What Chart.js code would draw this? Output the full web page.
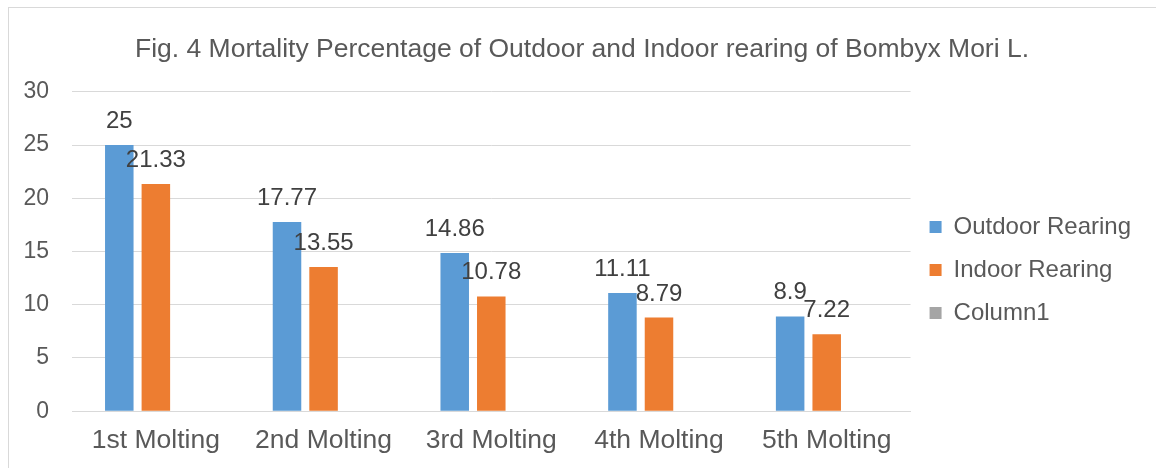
<!DOCTYPE HTML>
<html>
<head>
    <script src="https://cdn.jsdelivr.net/npm/chart.js"></script>
</head>
<body>
<style>
    * {
        margin: 0;
        padding: 0;
        box-sizing: border-box;
    }
    body {
        background: #ffffff;
        width: 1156px;
        height: 468px;
        overflow: hidden;
        position: relative;
    }
    .frame {
        position: absolute;
        left: 8px;
        top: 7px;
        width: 1200px;
        height: 500px;
        border: 1px solid #d9d9d9;
    }
    .chart {
        position: absolute;
        left: 0;
        top: 0;
        width: 1156px;
        height: 468px;
    }
</style>
<div class="frame"></div>
<div class="chart">
    <canvas id="myChart" width="1156" height="468"></canvas>
</div>
<script>
    const stages = ['1st Molting', '2nd Molting', '3rd Molting', '4th Molting', '5th Molting'];
    const outdoor = [25, 17.77, 14.86, 11.11, 8.9];
    const indoor = [21.33, 13.55, 10.78, 8.79, 7.22];
    const column1 = [null, null, null, null, null];
    const yTicks = [0, 5, 10, 15, 20, 25, 30];

    const FONT = '"Liberation Sans", Arial, sans-serif';

    // value labels above each bar, like excel's "outside end"
    const barLabels = {
        id: 'barLabels',
        afterDatasetsDraw(chart) {
            const ctx = chart.ctx;
            ctx.save();
            ctx.font = '24px ' + FONT;
            ctx.fillStyle = '#404040';
            ctx.textAlign = 'center';
            ctx.textBaseline = 'alphabetic';
            chart.data.datasets.forEach((ds, i) => {
                const meta = chart.getDatasetMeta(i);
                meta.data.forEach((bar, j) => {
                    const v = ds.data[j];
                    if (v === null || v === undefined) return;
                    ctx.fillText(String(v), bar.x, bar.y - 17);
                });
            });
            ctx.restore();
        }
    };

    const ctx = document.getElementById('myChart');
    new Chart(ctx, {
        type: 'bar',
        data: {
            labels: stages,
            datasets: [
                { label: 'Outdoor Rearing', data: outdoor, backgroundColor: '#5B9BD5' },
                { label: 'Indoor Rearing', data: indoor, backgroundColor: '#ED7D31' },
                { label: 'Column1', data: column1, backgroundColor: '#A5A5A5' }
            ]
        },
        options: {
            responsive: false,
            animation: false,
            categoryPercentage: 0.654,
            barPercentage: 0.78,
            layout: {
                padding: { left: 23, right: 15, top: 0, bottom: -3 }
            },
            plugins: {
                title: {
                    display: true,
                    text: 'Fig. 4 Mortality Percentage of Outdoor and Indoor rearing of Bombyx Mori L.',
                    color: '#595959',
                    font: { family: FONT, size: 26.5, weight: 'normal' },
                    padding: { top: 34, bottom: 26 }
                },
                legend: {
                    position: 'right',
                    // empty title only used to push the entries down a bit
                    title: {
                        display: true,
                        text: ' ',
                        font: { size: 1 },
                        padding: { top: 68, bottom: 0 }
                    },
                    labels: {
                        color: '#595959',
                        font: { family: FONT, size: 24 },
                        boxWidth: 12,
                        boxHeight: 12,
                        padding: 19
                    }
                },
                tooltip: { enabled: false }
            },
            scales: {
                x: {
                    grid: { display: false, drawTicks: false },
                    border: { color: '#d9d9d9' },
                    ticks: {
                        color: '#595959',
                        font: { family: FONT, size: 26.5 },
                        padding: 14
                    }
                },
                y: {
                    min: 0,
                    max: 30,
                    afterBuildTicks(axis) {
                        axis.ticks = yTicks.map(v => ({ value: v }));
                    },
                    afterFit(axis) {
                        axis.width = 49;
                    },
                    grid: { color: '#d9d9d9', drawTicks: false },
                    border: { display: false },
                    ticks: {
                        color: '#595959',
                        font: { family: FONT, size: 23, lineHeight: 1 },
                        padding: 23
                    }
                }
            }
        },
        plugins: [barLabels]
    });
</script>
</body>
</html>
